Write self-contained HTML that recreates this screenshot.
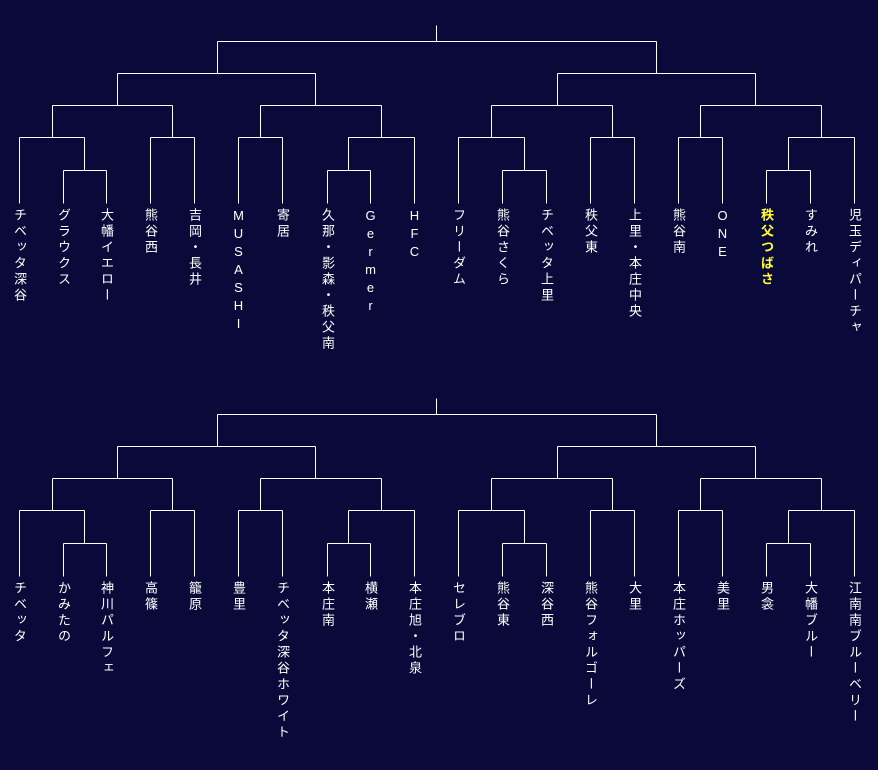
<!DOCTYPE html>
<html><head><meta charset="utf-8"><style>
html,body{margin:0;padding:0;background:#0a0a3a;}
#c{position:relative;width:878px;height:770px;overflow:hidden;background:#0a0a3a;}
svg{position:absolute;left:0;top:0;}
.t{position:absolute;writing-mode:vertical-rl;text-orientation:upright;font-family:"Liberation Sans","Noto Sans CJK JP",sans-serif;font-size:13px;letter-spacing:3px;color:#fff;width:16px;line-height:16px;white-space:nowrap;}
.y{color:#ffff33;font-weight:bold;}
</style></head><body><div id="c">
<svg width="878" height="770" shape-rendering="crispEdges">
<g id="b" stroke="#fff" stroke-width="1" fill="none" transform="translate(0.5,0.5)">
<path d="M436 25V41M217 41H656M217 41V73M117 73H315M117 73V105M52 105H172M52 105V137M19 137H84M19 137V203M84 137V170M63 170H106M63 170V203M106 170V203M172 105V137M150 137H194M150 137V203M194 137V203M315 73V105M260 105H381M260 105V137M238 137H282M238 137V203M282 137V203M381 105V137M348 137H414M348 137V170M327 170H370M327 170V203M370 170V203M414 137V203M656 41V73M557 73H755M557 73V105M491 105H612M491 105V137M458 137H524M458 137V203M524 137V170M502 170H546M502 170V203M546 170V203M612 105V137M590 137H634M590 137V203M634 137V203M755 73V105M700 105H821M700 105V137M678 137H722M678 137V203M722 137V203M821 105V137M788 137H854M788 137V170M766 170H810M766 170V203M810 170V203M854 137V203"/>
</g>
<use href="#b" transform="translate(0,373)"/>
</svg>
<div class="t" style="left:11px;top:208px">チベッタ深谷</div>
<div class="t" style="left:55px;top:208px">グラウクス</div>
<div class="t" style="left:98px;top:208px">大幡イエロー</div>
<div class="t" style="left:142px;top:208px">熊谷西</div>
<div class="t" style="left:186px;top:208px">吉岡・長井</div>
<div class="t" style="left:230px;top:208px">MUSASHI</div>
<div class="t" style="left:274px;top:208px">寄居</div>
<div class="t" style="left:319px;top:208px">久那・影森・秩父南</div>
<div class="t" style="left:362px;top:208px">Germer</div>
<div class="t" style="left:406px;top:208px">HFC</div>
<div class="t" style="left:450px;top:208px">フリーダム</div>
<div class="t" style="left:494px;top:208px">熊谷さくら</div>
<div class="t" style="left:538px;top:208px">チベッタ上里</div>
<div class="t" style="left:582px;top:208px">秩父東</div>
<div class="t" style="left:626px;top:208px">上里・本庄中央</div>
<div class="t" style="left:670px;top:208px">熊谷南</div>
<div class="t" style="left:714px;top:208px">ONE</div>
<div class="t y" style="left:758px;top:208px">秩父つばさ</div>
<div class="t" style="left:802px;top:208px">すみれ</div>
<div class="t" style="left:846px;top:208px">児玉ディパーチャ</div>

<div class="t" style="left:11px;top:581px">チベッタ</div>
<div class="t" style="left:55px;top:581px">かみたの</div>
<div class="t" style="left:98px;top:581px">神川パルフェ</div>
<div class="t" style="left:142px;top:581px">高篠</div>
<div class="t" style="left:186px;top:581px">籠原</div>
<div class="t" style="left:230px;top:581px">豊里</div>
<div class="t" style="left:274px;top:581px">チベッタ深谷ホワイト</div>
<div class="t" style="left:319px;top:581px">本庄南</div>
<div class="t" style="left:362px;top:581px">横瀬</div>
<div class="t" style="left:406px;top:581px">本庄旭・北泉</div>
<div class="t" style="left:450px;top:581px">セレブロ</div>
<div class="t" style="left:494px;top:581px">熊谷東</div>
<div class="t" style="left:538px;top:581px">深谷西</div>
<div class="t" style="left:582px;top:581px">熊谷フォルゴーレ</div>
<div class="t" style="left:626px;top:581px">大里</div>
<div class="t" style="left:670px;top:581px">本庄ホッパーズ</div>
<div class="t" style="left:714px;top:581px">美里</div>
<div class="t" style="left:758px;top:581px">男衾</div>
<div class="t" style="left:802px;top:581px">大幡ブルー</div>
<div class="t" style="left:846px;top:581px">江南南ブルーベリー</div>
</div></body></html>
